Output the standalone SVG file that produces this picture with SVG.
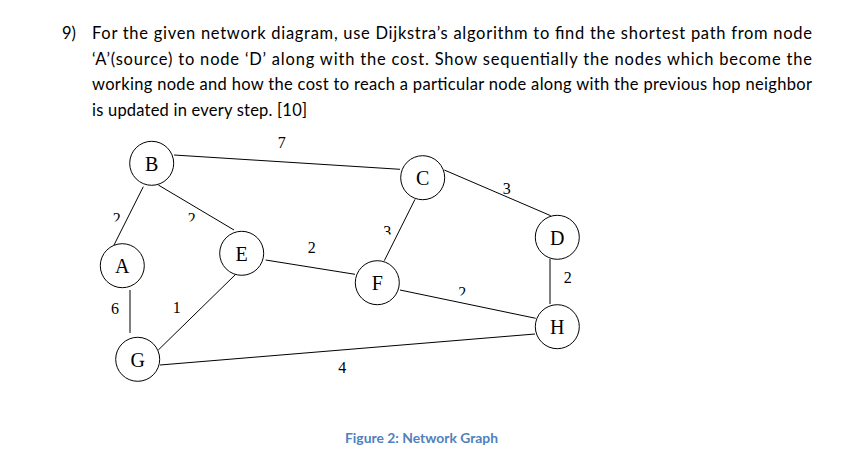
<svg xmlns="http://www.w3.org/2000/svg" width="857" height="457" viewBox="0 0 857 457">
<style>
.q{font-family:Lato,"Liberation Sans",sans-serif;font-size:16.5px;fill:#000}
.cap{font-family:Lato,"Liberation Sans",sans-serif;font-size:13.5px;font-weight:bold;fill:#4F81BD}
.nd circle{fill:#fff;stroke:#000;stroke-width:1}
.nd text{font-family:"Liberation Serif",serif;font-size:20px;text-anchor:middle;fill:#000}
.lb{font-family:"Liberation Serif",serif;font-size:16px;text-anchor:middle;fill:#000}
#edges line{stroke:#000;stroke-width:1}
</style>
<defs>
<clipPath id="cBA"><rect x="105" y="205" width="25" height="16.5"/></clipPath>
<clipPath id="cBE"><rect x="180" y="205" width="25" height="16.5"/></clipPath>
<clipPath id="cFH"><rect x="450" y="280" width="25" height="15.5"/></clipPath>
<clipPath id="cCF"><rect x="375" y="220" width="25" height="14.5"/></clipPath>
</defs>
<rect width="857" height="457" fill="#fff"/>
<g id="question">
<text class="q" x="62" y="39">9)</text>
<text class="q" x="92" y="39" textLength="720" lengthAdjust="spacing">For the given network diagram, use Dijkstra’s algorithm to find the shortest path from node</text>
<text class="q" x="92" y="64.5" textLength="720" lengthAdjust="spacing">‘A’(source) to node ‘D’ along with the cost. Show sequentially the nodes which become the</text>
<text class="q" x="92" y="90" textLength="720" lengthAdjust="spacing">working node and how the cost to reach a particular node along with the previous hop neighbor</text>
<text class="q" x="92" y="115.5" textLength="215" lengthAdjust="spacing">is updated in every step. [10]</text>
</g>
<g id="edges">
<line x1="174" y1="155" x2="400" y2="169.3"/>
<line x1="143.3" y1="186.7" x2="114" y2="245"/>
<line x1="158.3" y1="185" x2="234" y2="230"/>
<line x1="130" y1="290" x2="130" y2="333"/>
<line x1="236" y1="274" x2="158.3" y2="350"/>
<line x1="265.7" y1="260" x2="355" y2="274.3"/>
<line x1="160" y1="365" x2="535" y2="334"/>
<line x1="415" y1="199.3" x2="384.3" y2="260.7"/>
<line x1="444.3" y1="170" x2="550.7" y2="215.7"/>
<line x1="400" y1="290" x2="535.7" y2="318.3"/>
<line x1="550" y1="259" x2="550" y2="304"/>
</g>
<g id="labels">
<text class="lb" x="281.7" y="148">7</text>
<text class="lb" x="115" y="313.5">6</text>
<text class="lb" x="176.7" y="312.5">1</text>
<text class="lb" x="311.7" y="252.5">2</text>
<text class="lb" x="567.7" y="282.5">2</text>
<text class="lb" x="342.3" y="372.5">4</text>
<text class="lb" x="506.7" y="193.5">3</text>
<text class="lb" x="116.7" y="223.5" clip-path="url(#cBA)">2</text>
<text class="lb" x="191.7" y="223.5" clip-path="url(#cBE)">2</text>
<text class="lb" x="462.3" y="297.5" clip-path="url(#cFH)">2</text>
<text class="lb" x="387.3" y="237" clip-path="url(#cCF)">3</text>
</g>
<g id="node-B" class="nd"><circle cx="151.7" cy="163.3" r="22"/><text x="151.7" y="170.5">B</text></g>
<g id="node-A" class="nd"><circle cx="122.3" cy="265.7" r="22"/><text x="122.3" y="272.9">A</text></g>
<g id="node-E" class="nd"><circle cx="241.7" cy="253.3" r="22"/><text x="241.7" y="260.5">E</text></g>
<g id="node-G" class="nd"><circle cx="137.7" cy="359.3" r="22"/><text x="137.7" y="366.5">G</text></g>
<g id="node-C" class="nd"><circle cx="422.7" cy="177.7" r="22"/><text x="422.7" y="184.9">C</text></g>
<g id="node-F" class="nd"><circle cx="377.3" cy="282.7" r="22"/><text x="377.3" y="289.9">F</text></g>
<g id="node-D" class="nd"><circle cx="557.3" cy="237.3" r="22"/><text x="557.3" y="244.5">D</text></g>
<g id="node-H" class="nd"><circle cx="557.3" cy="326.7" r="22"/><text x="557.3" y="333.9">H</text></g>
<text class="cap" x="345" y="443" textLength="153" lengthAdjust="spacingAndGlyphs">Figure 2: Network Graph</text>
</svg>
